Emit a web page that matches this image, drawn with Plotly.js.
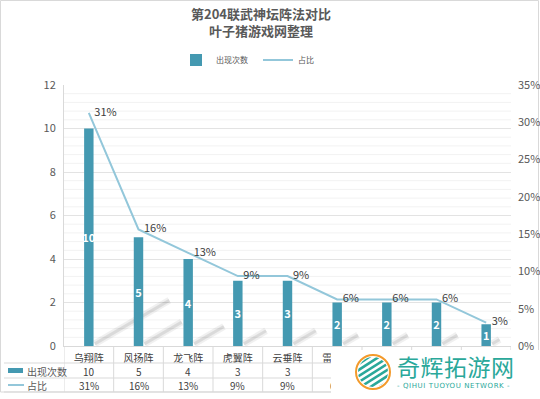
<!DOCTYPE html>
<html>
<head>
<meta charset="utf-8">
<script src="https://cdn.plot.ly/plotly-3.0.1.min.js"></script>
<style>
  html, body { margin: 0; padding: 0; background: #fff; }
  #wrap { position: relative; width: 540px; height: 399px; overflow: hidden; }
  #chart { width: 540px; height: 399px; }
  #chart path[style*="stroke-width: 7px"], #chart path[style*="stroke-width: 3px"] { shape-rendering: geometricPrecision !important; }
  #wm { position: absolute; left: 331px; top: 350px; width: 209px; height: 49px; background: #fff; }
  #wm svg { position: absolute; left: 23px; top: 3px; }
  #wm .t1 { position: absolute; left: 66px; top: 2px; font-family: "Noto Sans CJK SC", sans-serif; font-size: 23px; line-height: 28px; color: #2aa89a; letter-spacing: 0.5px; white-space: nowrap; }
  #wm .t2 { position: absolute; left: 66px; top: 32px; font-family: "DejaVu Sans", sans-serif; font-size: 7px; line-height: 9px; color: #2aa89a; letter-spacing: 0.6px; white-space: nowrap; }
</style>
</head>
<body>
<div id="wrap">
  <div id="chart"></div>
  <div id="wm">
    <svg width="38" height="38" viewBox="0 0 38 38">
      <defs><clipPath id="cc"><circle cx="19" cy="19" r="15"/></clipPath></defs>
      <circle cx="19" cy="19" r="17" fill="none" stroke="#f39a2b" stroke-width="2"/>
      <g clip-path="url(#cc)" stroke="#2aa89a" stroke-width="2.6">
        <line x1="0" y1="14" x2="30" y2="-6"/>
        <line x1="0" y1="20" x2="34" y2="-2"/>
        <line x1="0" y1="26" x2="38" y2="2"/>
        <line x1="0" y1="32" x2="38" y2="8"/>
        <line x1="0" y1="38" x2="38" y2="14"/>
        <line x1="4" y1="42" x2="38" y2="20"/>
        <line x1="10" y1="44" x2="38" y2="26"/>
      </g>
    </svg>
    <div class="t1">奇辉拓游网</div>
    <div class="t2">- QIHUI TUOYOU NETWORK -</div>
  </div>
</div>
<script>
// ---- data ----
const categories = ["乌翔阵", "风扬阵", "龙飞阵", "虎翼阵", "云垂阵", "雷绝阵", "天覆阵", "地载阵", "蛇蟠阵"];
const counts = [10, 5, 4, 3, 3, 2, 2, 2, 1];
const shares = [0.3125, 0.15625, 0.125, 0.09375, 0.09375, 0.0625, 0.0625, 0.0625, 0.03125];
const seriesNames = ["出现次数", "占比"];
const titleLines = ["第204联武神坛阵法对比", "叶子猪游戏网整理"];

const barColor = "#4499b1";
const lineColor = "#93c7da";
const textColor = "#595959";
const font = "'Noto Sans CJK SC', 'Noto Sans', sans-serif";

const fmtPct = v => Math.round(v * 100) + "%";

const barTrace = {
  type: "bar",
  name: seriesNames[0],
  x: categories,
  y: counts,
  width: 0.19,
  marker: { color: barColor },
  text: counts.map(String),
  textposition: "inside",
  insidetextanchor: "middle",
  constraintext: "none",
  textfont: { color: "#ffffff", size: 11, family: font, weight: "bold" },
  hoverinfo: "skip",
  yaxis: "y"
};

const lineTrace = {
  type: "scatter",
  mode: "lines+text",
  name: seriesNames[1],
  x: categories,
  y: shares,
  line: { color: lineColor, width: 2 },
  text: shares.map(v => "\u2002" + fmtPct(v)),
  textposition: "middle right",
  textfont: { color: "#404040", size: 11, family: font },
  cliponaxis: false,
  hoverinfo: "skip",
  yaxis: "y2"
};

// plot geometry helpers (paper coords)
const plotTop = 85, plotBottom = 346, plotH = plotBottom - plotTop;
const plotLeft = 64, plotRight = 511, plotW = plotRight - plotLeft;
const py = Y => (plotBottom - Y) / plotH;
const px = X => (X - plotLeft) / plotW;

const shapes = [];
// faint minor gridlines (every 0.4 on the left axis, skipping the major ones)
for (let k = 1; k < 30; k++) {
  if (k % 5 === 0) continue;
  shapes.push({ type: "line", xref: "paper", yref: "y", layer: "below",
    x0: 0, x1: 1, y0: k * 0.4, y1: k * 0.4, line: { color: "#f2f2f2", width: 1 } });
}
// soft shadows beside bars
counts.forEach((v, i) => {
  const x0 = i + 0.12, y0 = 0.1, x1 = x0 + 0.15 * v, y1 = y0 + 0.2 * v;
  shapes.push({
    type: "line", xref: "x", yref: "y", layer: "between",
    x0: x0, y0: y0, x1: x1, y1: y1,
    line: { color: "rgba(0,0,0,0.06)", width: 7 }
  });
  shapes.push({
    type: "line", xref: "x", yref: "y", layer: "between",
    x0: x0, y0: y0, x1: x1, y1: y1,
    line: { color: "rgba(0,0,0,0.09)", width: 3 }
  });
});
// table horizontal lines
[363, 378, 392].forEach(Y => {
  shapes.push({
    type: "line", xref: "paper", yref: "paper",
    x0: px(4), x1: 1, y0: py(Y), y1: py(Y),
    line: { color: "#d9d9d9", width: 1 }
  });
});
// table vertical lines at category boundaries
for (let i = 0; i <= categories.length; i++) {
  shapes.push({
    type: "line", xref: "x", yref: "paper",
    x0: i - 0.5, x1: i - 0.5, y0: 0, y1: py(392),
    line: { color: "#d9d9d9", width: 1 }
  });
}
// legend keys in table
shapes.push({ type: "rect", xref: "paper", yref: "paper", x0: px(8), x1: px(23), y0: py(373), y1: py(368),
  fillcolor: barColor, line: { width: 0 } });
shapes.push({ type: "line", xref: "paper", yref: "paper", x0: px(8), x1: px(24), y0: py(385), y1: py(385),
  line: { color: lineColor, width: 2 } });
// outer frame
shapes.push({ type: "rect", xref: "paper", yref: "paper", x0: px(0.5), x1: px(538.5), y0: py(392), y1: py(0.5),
  line: { color: "#d9d9d9", width: 1 }, layer: "below" });

const annotations = [];
// title lines
titleLines.forEach((t, k) => {
  annotations.push({ xref: "paper", yref: "paper", x: px(261), y: py(14 + 16 * k), xanchor: "center", yanchor: "middle",
    text: "<b>" + t + "</b>", showarrow: false, font: { size: 13, color: "#595959", family: font } });
});
const rowCountY = py(371), rowPctY = py(385);
annotations.push({ xref: "paper", yref: "paper", x: px(25), y: rowCountY, xanchor: "left", yanchor: "middle",
  text: seriesNames[0], showarrow: false, font: { size: 10, color: textColor, family: font } });
annotations.push({ xref: "paper", yref: "paper", x: px(25), y: rowPctY, xanchor: "left", yanchor: "middle",
  text: seriesNames[1], showarrow: false, font: { size: 10, color: textColor, family: font } });
categories.forEach((c, i) => {
  annotations.push({ xref: "x", yref: "paper", x: c, y: rowCountY, xanchor: "center", yanchor: "middle",
    text: String(counts[i]), showarrow: false, font: { size: 10, color: "#404040", family: font } });
  annotations.push({ xref: "x", yref: "paper", x: c, y: rowPctY, xanchor: "center", yanchor: "middle",
    text: fmtPct(shares[i]), showarrow: false, font: { size: 10, color: "#404040", family: font } });
});

const layout = {
  width: 540, height: 399,
  margin: { l: plotLeft, r: 540 - plotRight, t: plotTop, b: 399 - plotBottom, pad: 0 },
  paper_bgcolor: "#ffffff",
  plot_bgcolor: "rgba(0,0,0,0)",
  font: { family: font, color: textColor, size: 11 },
  showlegend: true,
  legend: {
    orientation: "h", x: px(176), xanchor: "left", y: 1 + 25 / plotH, yanchor: "middle",
    font: { size: 8, color: textColor, family: font },
    entrywidth: 37, entrywidthmode: "pixels",
    traceorder: "normal"
  },
  xaxis: {
    type: "category",
    showgrid: false,
    showline: true, linecolor: "#d9d9d9", linewidth: 1,
    ticks: "", tickfont: { size: 10, color: "#404040", family: font },
    ticklabelstandoff: 3,
    range: [-0.5, categories.length - 0.5],
    fixedrange: true
  },
  yaxis: {
    range: [0, 12], dtick: 2, tick0: 0,
    showgrid: true, gridcolor: "#e3e3e3", gridwidth: 1,
    zeroline: false, showline: true, linecolor: "#d9d9d9",
    ticks: "", ticklabelstandoff: 5,
    tickfont: { size: 11, color: textColor, family: font }
  },
  yaxis2: {
    overlaying: "y", side: "right",
    range: [0, 0.35], dtick: 0.05, tick0: 0, tickformat: ".0%",
    showgrid: false, zeroline: false, showline: false,
    ticks: "", ticklabelstandoff: 6,
    tickfont: { size: 11, color: textColor, family: font }
  },
  shapes: shapes,
  annotations: annotations
};

Plotly.newPlot("chart", [barTrace, lineTrace], layout, { staticPlot: true, displayModeBar: false });
</script>
</body>
</html>
